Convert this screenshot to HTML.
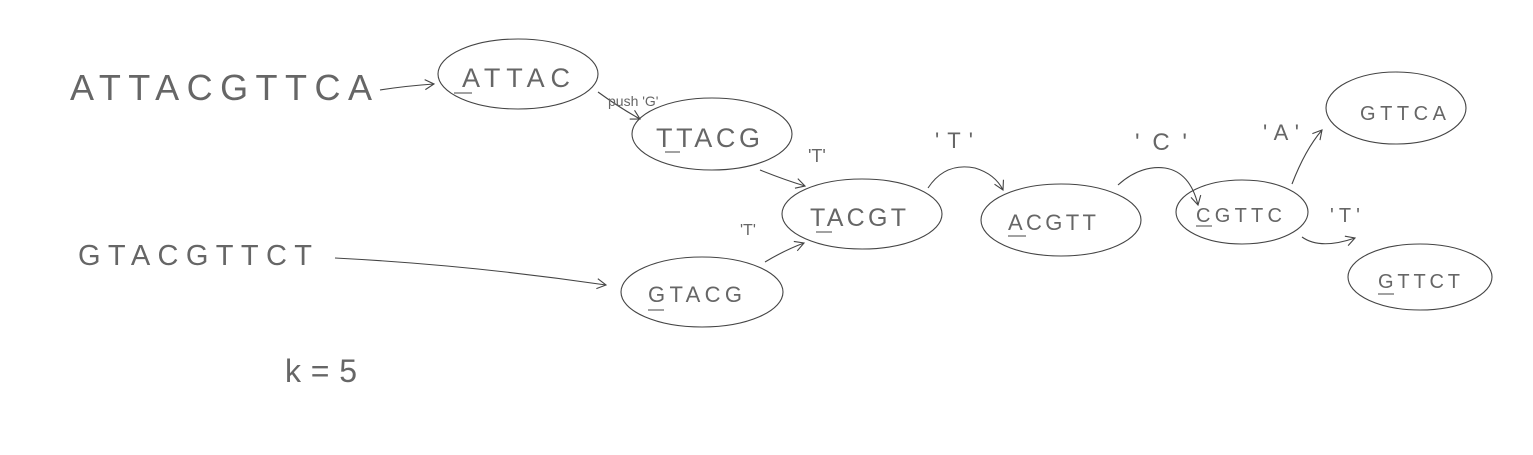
<!DOCTYPE html>
<html><head><meta charset="utf-8"><style>
html,body{margin:0;padding:0;background:#fff;}
svg{display:block}
text{font-family:"Liberation Sans",sans-serif;fill:#666;}
</style></head><body>
<svg width="1533" height="455" viewBox="0 0 1533 455" xmlns="http://www.w3.org/2000/svg">
<defs><marker id="a" markerWidth="12" markerHeight="12" refX="10" refY="6" orient="auto" markerUnits="userSpaceOnUse"><path d="M1,1 L10,6 L1,11" fill="none" stroke="#444" stroke-width="1.1"/></marker></defs>
<g fill="none" stroke="#444" stroke-width="1.1">
<ellipse cx="518" cy="74" rx="80" ry="35"/>
<ellipse cx="712" cy="134" rx="80" ry="36"/>
<ellipse cx="862" cy="214" rx="80" ry="35"/>
<ellipse cx="1061" cy="220" rx="80" ry="36"/>
<ellipse cx="1242" cy="212" rx="66" ry="32"/>
<ellipse cx="1396" cy="108" rx="70" ry="36"/>
<ellipse cx="1420" cy="277" rx="72" ry="33"/>
<ellipse cx="702" cy="292" rx="81" ry="35"/>
<path d="M380,90 Q405,86 434,84" marker-end="url(#a)"/>
<path d="M598,92 Q620,108 640,119" marker-end="url(#a)"/>
<path d="M760,170 Q785,180 805,186" marker-end="url(#a)"/>
<path d="M928,188 Q945,162 975,168 Q995,174 1003,190" marker-end="url(#a)"/>
<path d="M1118,185 Q1140,165 1165,168 Q1190,172 1198,205" marker-end="url(#a)"/>
<path d="M1292,184 Q1305,150 1322,130" marker-end="url(#a)"/>
<path d="M1302,237 Q1320,250 1355,238" marker-end="url(#a)"/>
<path d="M765,262 Q785,250 804,243" marker-end="url(#a)"/>
<path d="M335,258 Q470,265 606,285" marker-end="url(#a)"/>
<path d="M454,93 L472,93 M665,152 L680,152 M816,232 L832,232 M1008,236 L1026,236 M1196,226 L1212,226 M648,310 L664,310 M1378,294 L1394,294"/>
</g>
<text x="70" y="100" font-size="36" textLength="302" lengthAdjust="spacing">ATTACGTTCA</text>
<text x="462" y="87" font-size="27" textLength="108" lengthAdjust="spacing">ATTAC</text>
<text x="656" y="147" font-size="27" textLength="104" lengthAdjust="spacing">TTACG</text>
<text x="810" y="226" font-size="25" textLength="96" lengthAdjust="spacing">TACGT</text>
<text x="1008" y="230" font-size="22" textLength="88" lengthAdjust="spacing">ACGTT</text>
<text x="1196" y="222" font-size="20" textLength="86" lengthAdjust="spacing">CGTTC</text>
<text x="1360" y="120" font-size="20" textLength="86" lengthAdjust="spacing">GTTCA</text>
<text x="1378" y="288" font-size="20" textLength="82" lengthAdjust="spacing">GTTCT</text>
<text x="648" y="302" font-size="22" textLength="94" lengthAdjust="spacing">GTACG</text>
<text x="78" y="265" font-size="29" textLength="234" lengthAdjust="spacing">GTACGTTCT</text>
<text x="285" y="382" font-size="32" textLength="72" lengthAdjust="spacing">k=5</text>
<text x="608" y="106" font-size="14">push 'G'</text>
<text x="808" y="162" font-size="18">'T'</text>
<text x="935" y="148" font-size="22" textLength="38" lengthAdjust="spacing">'T'</text>
<text x="1135" y="150" font-size="24" textLength="52" lengthAdjust="spacing">'C'</text>
<text x="1263" y="140" font-size="22" textLength="36" lengthAdjust="spacing">'A'</text>
<text x="1330" y="222" font-size="20" textLength="30" lengthAdjust="spacing">'T'</text>
<text x="740" y="235" font-size="16">'T'</text>
</svg>
</body></html>
